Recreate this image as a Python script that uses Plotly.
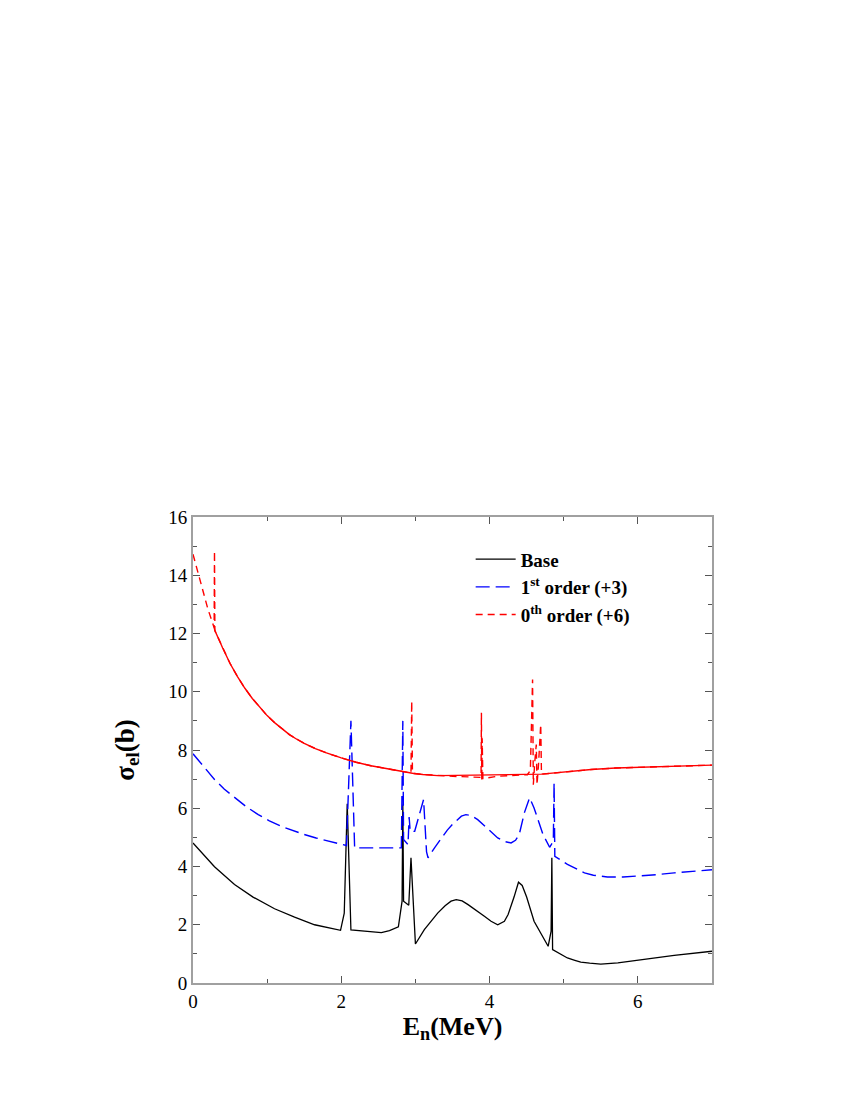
import plotly.graph_objects as go

# ---- Data ----
base_E = [0, 0.29, 0.56, 0.81, 1.10, 1.37, 1.64, 1.82, 1.99, 2.04, 2.08, 2.13,
          2.54, 2.65, 2.77, 2.82, 2.83, 2.84, 2.91, 2.94, 3.00, 3.12, 3.20, 3.30,
          3.40, 3.48, 3.55, 3.63, 3.71, 3.82, 3.93, 4.02, 4.11, 4.20, 4.25, 4.33,
          4.39, 4.44, 4.50, 4.60, 4.70, 4.79, 4.83, 4.84, 4.85, 5.05, 5.15, 5.23,
          5.35, 5.50, 5.73, 6.04, 6.49, 7.00]
base_S = [4.81, 3.99, 3.38, 2.95, 2.55, 2.26, 2.00, 1.91, 1.81, 2.40, 6.15, 1.82,
          1.73, 1.80, 1.93, 2.81, 6.13, 2.81, 2.67, 4.30, 1.34, 1.83, 2.10, 2.40,
          2.65, 2.81, 2.86, 2.82, 2.69, 2.50, 2.29, 2.12, 2.00, 2.12, 2.35, 2.95,
          3.46, 3.35, 2.95, 2.12, 1.65, 1.26, 1.78, 4.30, 1.15, 0.86, 0.78, 0.72,
          0.68, 0.65, 0.69, 0.80, 0.95, 1.09]

first_E = [0, 0.15, 0.29, 0.42, 0.56, 0.72, 0.88, 1.03, 1.19, 1.35, 1.50, 1.66,
           1.82, 1.95, 2.07, 2.13, 2.18, 2.81, 2.83, 2.84, 2.90, 2.915, 2.93, 2.99,
           3.11, 3.15, 3.17, 3.26, 3.35, 3.43, 3.50, 3.62, 3.68, 3.75, 3.84, 3.95,
           4.11, 4.20, 4.29, 4.35, 4.40, 4.47, 4.54, 4.60, 4.66, 4.72, 4.81, 4.86,
           4.87, 4.88, 5.05, 5.19, 5.28, 5.40, 5.59, 5.80, 6.04, 6.25, 6.49, 6.75,
           7.00]
first_S = [7.87, 7.41, 6.99, 6.66, 6.36, 6.05, 5.78, 5.57, 5.38, 5.23, 5.10, 4.98,
           4.87, 4.79, 4.72, 9.00, 4.64, 4.64, 9.00, 4.93, 4.75, 5.70, 5.20, 5.21,
           6.30, 4.50, 4.30, 4.65, 4.98, 5.25, 5.45, 5.73, 5.78, 5.75, 5.61, 5.35,
           4.98, 4.86, 4.81, 4.90, 5.10, 5.85, 6.36, 6.01, 5.55, 5.10, 4.66, 4.87,
           6.87, 4.35, 4.07, 3.89, 3.78, 3.70, 3.64, 3.64, 3.67, 3.72, 3.78, 3.84,
           3.89]

zeroth_E = [0, 0.10, 0.20, 0.285, 0.29, 0.295, 0.40, 0.50, 0.60, 0.70, 0.80, 0.90,
            1.00, 1.10, 1.20, 1.30, 1.40, 1.50, 1.65, 1.80, 2.00, 2.20, 2.40, 2.60,
            2.80, 2.94, 2.95, 2.96, 3.10, 3.30, 3.57, 3.885, 3.89, 3.895, 3.90,
            3.91, 4.11, 4.51, 4.55, 4.58, 4.59, 4.61, 4.63, 4.64, 4.66, 4.69, 4.70,
            5.00, 5.37, 5.70, 6.04, 6.50, 7.00]
zeroth_S = [14.72, 13.75, 12.85, 12.20, 14.83, 12.10, 11.50, 10.97, 10.52, 10.12,
            9.77, 9.46, 9.18, 8.94, 8.72, 8.53, 8.37, 8.23, 8.05, 7.90, 7.73, 7.58,
            7.46, 7.36, 7.27, 7.21, 9.68, 7.20, 7.16, 7.12, 7.09, 7.06, 9.28, 6.95,
            8.40, 7.02, 7.10, 7.15, 7.30, 10.42, 6.81, 7.60, 8.19, 6.81, 7.50, 8.88,
            7.17, 7.24, 7.33, 7.38, 7.41, 7.45, 7.48]
# indices of narrow resonance spikes in the 0th-order curve
zeroth_spikes = [4, 26, 32, 34, 38, 39, 40, 41, 42, 43, 44, 45]

x_ticks = [0, 2, 4, 6]
y_ticks = [0, 2, 4, 6, 8, 10, 12, 14, 16]

FONT = "Liberation Serif, Times New Roman, serif"

fig = go.Figure()

fig.add_trace(go.Scatter(x=base_E, y=base_S, mode="lines", name="<b>Base</b>",
                         line=dict(color="black", width=1.3)))
fig.add_trace(go.Scatter(x=first_E, y=first_S, mode="lines",
                         name="<b>1<sup>st</sup> order (+3)</b>",
                         line=dict(color="#0000ff", width=1.4, dash="14px,6px")))
fig.add_trace(go.Scatter(x=zeroth_E, y=zeroth_S, mode="lines",
                         name="<b>0<sup>th</sup> order (+6)</b>",
                         line=dict(color="#ff0000", width=1.4, dash="7px,5px")))

# smooth (non-spike) part of the 0th-order curve renders solid
keep = [i for i, e in enumerate(zeroth_E)
        if i not in zeroth_spikes and (0.25 <= e <= 3.5 or e >= 4.69)]
fig.add_trace(go.Scatter(x=[zeroth_E[i] for i in keep],
                         y=[zeroth_S[i] for i in keep],
                         mode="lines", showlegend=False, hoverinfo="skip",
                         line=dict(color="#ff0000", width=1.4)))

axis_common = dict(
    showgrid=False, zeroline=False, showline=True, linecolor="#a0a0a0",
    linewidth=2, mirror="allticks", ticks="inside", ticklen=7, tickwidth=1,
    tickcolor="#555555", tickfont=dict(family=FONT, size=19, color="black"),
)

fig.update_xaxes(range=[0, 7], tickvals=x_ticks,
                 minor=dict(dtick=1, ticks="inside", ticklen=4, tickcolor="#555555"),
                 title=dict(text="<b>E<sub>n</sub>(MeV)</b>",
                            font=dict(family=FONT, size=26, color="black"),
                            standoff=4),
                 **axis_common)
fig.update_yaxes(range=[0, 16], tickvals=y_ticks,
                 minor=dict(dtick=1, ticks="inside", ticklen=4, tickcolor="#555555"),
                 title=dict(text="<b>σ<sub>el</sub>(b)</b>",
                            font=dict(family=FONT, size=27, color="black"),
                            standoff=26),
                 **axis_common)

fig.update_layout(
    width=850, height=1100,
    margin=dict(l=185, r=146, t=509, b=125),
    paper_bgcolor="white", plot_bgcolor="white",
    showlegend=True,
    legend=dict(x=0.535, y=0.95, xanchor="left", yanchor="top",
                bgcolor="rgba(0,0,0,0)", borderwidth=0,
                font=dict(family=FONT, size=19, color="black"),
                tracegroupgap=0, itemwidth=40),
)

fig.write_html("out.html")
